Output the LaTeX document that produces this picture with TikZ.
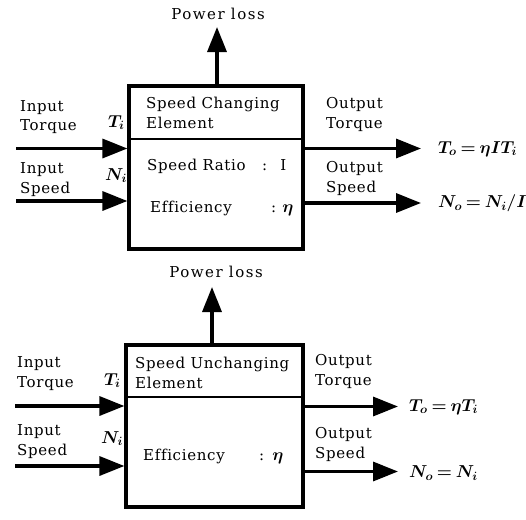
\documentclass[tikz,border=0pt]{standalone}
\usepackage{fontspec}
\usepackage{amsmath,bm}
\usetikzlibrary{arrows.meta}
\newfontfamily\lbfam{DejaVu Serif}[LetterSpace=4.5,Ligatures=NoCommon]
\newcommand\lbfont{\lbfam\fontsize{15}{19.5}\selectfont}
\newcommand\mthfont{\fontsize{17}{19}\selectfont}
\newcommand\eqs{\mskip4mu{=}\mskip4mu}
\tikzset{
  lbl/.style={anchor=base west, inner sep=0pt, align=left, font=\lbfont},
  ttl/.style={anchor=base, inner sep=0pt, font=\lbfont\addfontfeatures{LetterSpace=10}},
  sym/.style={anchor=base west, inner sep=0pt, font=\mthfont},
  eqn/.style={anchor=west, inner sep=0pt, font=\mthfont},
  flow/.style={line width=3.4pt, -{Triangle[length=25pt,width=19pt]}},
  elem/.style={draw, line width=3.2pt, rectangle, inner sep=0pt},
  divider/.style={line width=2.6pt},
}
\begin{document}
\begin{tikzpicture}[x=1pt,y=-1pt]
\useasboundingbox (0,0) rectangle (526,519);

% ---------------- top diagram ----------------
\node[elem, minimum width=174pt, minimum height=163pt] (b1) at (216,167.5) {};
\coordinate (d1) at (0,139);
\draw[divider] (d1 -| b1.west) -- (d1 -| b1.east);

\node[ttl] (pl1) at (218,20) {Power loss};
\coordinate (pt1) at (217,27);
\draw[flow] (pt1 |- b1.north) -- (pt1);

\node[lbl] (it1l) at (20,130.5) {Input\\Torque};
\node[lbl] (is1l) at (20,193) {Input\\Speed};
\node[sym] (ti1) at (108,127) {$\bm{T_i}$};
\node[sym] (ni1) at (105,180) {$\bm{N_i}$};
\coordinate (it1) at (16,148.5);
\coordinate (is1) at (16,201);
\draw[flow] (it1) -- (it1 -| b1.west);
\draw[flow] (is1) -- (is1 -| b1.west);

\node[lbl] (t1) at (146,128) {Speed Changing\\Element};
\node[lbl] (sr1) at (147,170) {Speed Ratio};
\node[lbl] (src1) at (262,170) {:\hspace{13pt}I};
\node[lbl] (ef1) at (150,212) {Efficiency};
\node[lbl] (efc1) at (271,212) {:\hspace{6pt}{\mthfont$\bm{\eta}$}};

\node[lbl] (ot1l) at (326,128) {Output\\Torque};
\node[lbl] (os1l) at (326,192) {Output\\Speed};
\coordinate (ot1) at (421,148.5);
\coordinate (os1) at (421,203);
\draw[flow] (ot1 -| b1.east) -- (ot1);
\draw[flow] (os1 -| b1.east) -- (os1);
\node[eqn] (to1) at (438,149) {$\bm{T_o \eqs \eta I T_i}$};
\node[eqn] (no1) at (438,203.5) {$\bm{N_o \eqs N_i/I}$};

% ---------------- bottom diagram ----------------
\node[elem, minimum width=177pt, minimum height=162pt] (b2) at (214.5,426) {};
\coordinate (d2) at (0,397);
\draw[divider] (d2 -| b2.west) -- (d2 -| b2.east);

\node[ttl] (pl2) at (216,277) {Power loss};
\coordinate (pt2) at (212,287);
\draw[flow] (pt2 |- b2.north) -- (pt2);

\node[lbl] (it2l) at (17,387) {Input\\Torque};
\node[lbl] (is2l) at (17,455) {Input\\Speed};
\node[sym] (ti2) at (104,385) {$\bm{T_i}$};
\node[sym] (ni2) at (101,443) {$\bm{N_i}$};
\coordinate (it2) at (15,406);
\coordinate (is2) at (15,466);
\draw[flow] (it2) -- (it2 -| b2.west);
\draw[flow] (is2) -- (is2 -| b2.west);

\node[lbl] (t2) at (135,388) {Speed Unchanging\\Element};
\node[lbl] (ef2) at (143,460) {Efficiency};
\node[lbl] (efc2) at (259,460) {:\hspace{8pt}{\mthfont$\bm{\eta}$}};

\node[lbl] (ot2l) at (315,385) {Output\\Torque};
\node[lbl] (os2l) at (315,458) {Output\\Speed};
\coordinate (ot2) at (398,406.5);
\coordinate (os2) at (398,471.5);
\draw[flow] (ot2 -| b2.east) -- (ot2);
\draw[flow] (os2 -| b2.east) -- (os2);
\node[eqn] (to2) at (409,407) {$\bm{T_o \eqs \eta T_i}$};
\node[eqn] (no2) at (409,473) {$\bm{N_o \eqs N_i}$};
\end{tikzpicture}
\end{document}
